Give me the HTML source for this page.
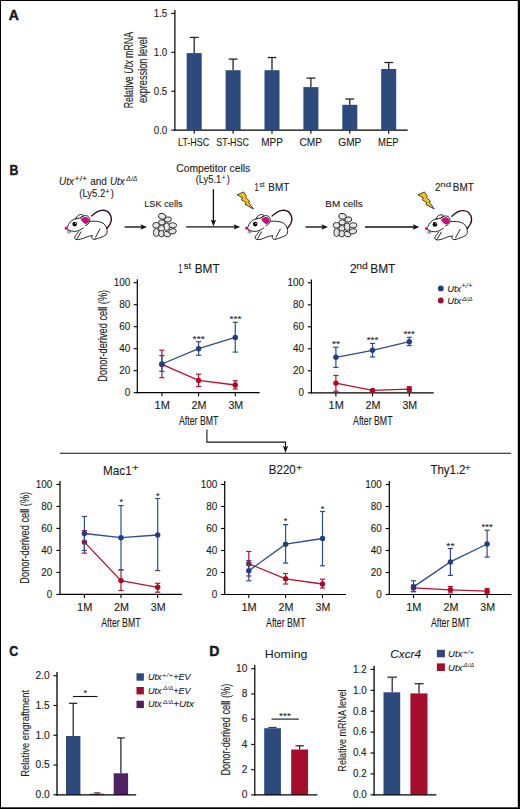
<!DOCTYPE html>
<html><head><meta charset="utf-8"><style>
html,body{margin:0;padding:0;background:#fff;overflow:hidden;}
svg{display:block;font-family:"Liberation Sans", sans-serif;}
text{fill:#1a1a1a;stroke:#1a1a1a;stroke-width:0.1px;}
</style></head><body>
<svg width="520" height="809" viewBox="0 0 520 809">
<rect x="0" y="0" width="520" height="809" fill="#000"/>
<rect x="1" y="1" width="516.8" height="806.3" fill="#fff"/>
<text x="8.85" y="19.80" font-size="14.00" textLength="10.12" lengthAdjust="spacingAndGlyphs" font-weight="bold" style="stroke-width:0.45px">A</text>
<text x="9.48" y="174.80" font-size="14.00" textLength="8.88" lengthAdjust="spacingAndGlyphs" font-weight="bold" style="stroke-width:0.45px">B</text>
<text x="9.19" y="656.30" font-size="14.00" textLength="8.95" lengthAdjust="spacingAndGlyphs" font-weight="bold" style="stroke-width:0.45px">C</text>
<text x="209.16" y="656.20" font-size="14.00" textLength="10.13" lengthAdjust="spacingAndGlyphs" font-weight="bold" style="stroke-width:0.45px">D</text>
<line x1="174.90" y1="10.00" x2="174.90" y2="130.80" stroke="#000" stroke-width="1.2"/>
<line x1="171.30" y1="130.10" x2="174.90" y2="130.10" stroke="#000" stroke-width="1.1"/>
<text x="153.73" y="133.70" font-size="10.50" textLength="13.55" lengthAdjust="spacingAndGlyphs">0.0</text>
<line x1="171.30" y1="91.20" x2="174.90" y2="91.20" stroke="#000" stroke-width="1.1"/>
<text x="153.76" y="94.80" font-size="10.50" textLength="13.55" lengthAdjust="spacingAndGlyphs">0.5</text>
<line x1="171.30" y1="52.30" x2="174.90" y2="52.30" stroke="#000" stroke-width="1.1"/>
<text x="153.73" y="55.90" font-size="10.50" textLength="13.55" lengthAdjust="spacingAndGlyphs">1.0</text>
<line x1="171.30" y1="13.40" x2="174.90" y2="13.40" stroke="#000" stroke-width="1.1"/>
<text x="153.76" y="17.00" font-size="10.50" textLength="13.55" lengthAdjust="spacingAndGlyphs">1.5</text>
<line x1="174.30" y1="130.20" x2="407.70" y2="130.20" stroke="#000" stroke-width="1.2"/>
<line x1="194.20" y1="37.40" x2="194.20" y2="53.10" stroke="#262626" stroke-width="1.3"/>
<line x1="189.80" y1="37.40" x2="198.60" y2="37.40" stroke="#262626" stroke-width="1.3"/>
<rect x="186.70" y="53.10" width="15.00" height="77.10" fill="#2c4a7c"/>
<line x1="194.20" y1="130.20" x2="194.20" y2="133.70" stroke="#000" stroke-width="1.1"/>
<text x="178.10" y="146.00" font-size="10.50" textLength="31.03" lengthAdjust="spacingAndGlyphs">LT-HSC</text>
<line x1="233.10" y1="59.10" x2="233.10" y2="70.20" stroke="#262626" stroke-width="1.3"/>
<line x1="228.70" y1="59.10" x2="237.50" y2="59.10" stroke="#262626" stroke-width="1.3"/>
<rect x="225.60" y="70.20" width="15.00" height="60.00" fill="#2c4a7c"/>
<line x1="233.10" y1="130.20" x2="233.10" y2="133.70" stroke="#000" stroke-width="1.1"/>
<text x="216.30" y="146.00" font-size="10.50" textLength="32.53" lengthAdjust="spacingAndGlyphs">ST-HSC</text>
<line x1="272.00" y1="57.50" x2="272.00" y2="70.20" stroke="#262626" stroke-width="1.3"/>
<line x1="267.60" y1="57.50" x2="276.40" y2="57.50" stroke="#262626" stroke-width="1.3"/>
<rect x="264.50" y="70.20" width="15.00" height="60.00" fill="#2c4a7c"/>
<line x1="272.00" y1="130.20" x2="272.00" y2="133.70" stroke="#000" stroke-width="1.1"/>
<text x="261.18" y="146.00" font-size="10.50" textLength="21.65" lengthAdjust="spacingAndGlyphs">MPP</text>
<line x1="310.90" y1="78.10" x2="310.90" y2="87.10" stroke="#262626" stroke-width="1.3"/>
<line x1="306.50" y1="78.10" x2="315.30" y2="78.10" stroke="#262626" stroke-width="1.3"/>
<rect x="303.40" y="87.10" width="15.00" height="43.10" fill="#2c4a7c"/>
<line x1="310.90" y1="130.20" x2="310.90" y2="133.70" stroke="#000" stroke-width="1.1"/>
<text x="299.48" y="146.00" font-size="10.50" textLength="22.55" lengthAdjust="spacingAndGlyphs">CMP</text>
<line x1="349.80" y1="99.00" x2="349.80" y2="104.80" stroke="#262626" stroke-width="1.3"/>
<line x1="345.40" y1="99.00" x2="354.20" y2="99.00" stroke="#262626" stroke-width="1.3"/>
<rect x="342.30" y="104.80" width="15.00" height="25.40" fill="#2c4a7c"/>
<line x1="349.80" y1="130.20" x2="349.80" y2="133.70" stroke="#000" stroke-width="1.1"/>
<text x="338.29" y="146.00" font-size="10.50" textLength="23.04" lengthAdjust="spacingAndGlyphs">GMP</text>
<line x1="388.70" y1="62.50" x2="388.70" y2="69.00" stroke="#262626" stroke-width="1.3"/>
<line x1="384.30" y1="62.50" x2="393.10" y2="62.50" stroke="#262626" stroke-width="1.3"/>
<rect x="381.20" y="69.00" width="15.00" height="61.20" fill="#2c4a7c"/>
<line x1="388.70" y1="130.20" x2="388.70" y2="133.70" stroke="#000" stroke-width="1.1"/>
<text x="378.02" y="146.00" font-size="10.50" textLength="20.47" lengthAdjust="spacingAndGlyphs">MEP</text>
<text transform="translate(133.00,108.33) rotate(-90)" x="0" y="0" font-size="12.80" textLength="76.55" lengthAdjust="spacingAndGlyphs">Relative <tspan font-style="italic">Utx</tspan> mRNA</text>
<text transform="translate(146.80,103.09) rotate(-90)" x="0" y="0" font-size="12.80" textLength="66.11" lengthAdjust="spacingAndGlyphs">expression level</text>
<text x="59.06" y="185.30" font-size="10.50" textLength="14.85" lengthAdjust="spacingAndGlyphs" font-style="italic">Utx</text>
<text x="74.58" y="181.20" font-size="7.60" textLength="12.55" lengthAdjust="spacingAndGlyphs">+/+</text>
<text x="90.18" y="185.00" font-size="10.30" textLength="16.67" lengthAdjust="spacingAndGlyphs">and</text>
<text x="110.07" y="185.30" font-size="10.50" textLength="14.64" lengthAdjust="spacingAndGlyphs" font-style="italic">Utx</text>
<text x="126.33" y="180.60" font-size="6.80" textLength="11.04" lengthAdjust="spacingAndGlyphs" font-style="italic" style="stroke-width:0px">Δ/Δ</text>
<text x="79.32" y="196.80" font-size="10.30" textLength="25.84" lengthAdjust="spacingAndGlyphs">(Ly5.2</text>
<text x="105.14" y="193.90" font-size="7.50" textLength="4.33" lengthAdjust="spacingAndGlyphs">+</text>
<text x="110.64" y="196.80" font-size="10.30" textLength="3.14" lengthAdjust="spacingAndGlyphs">)</text>
<line x1="124.60" y1="227.00" x2="143.00" y2="227.00" stroke="#111" stroke-width="1.35"/>
<path d="M147.00,227.00 L140.40,224.30 L141.80,227.00 L140.40,229.70 Z" fill="#111"/>
<line x1="186.20" y1="226.90" x2="236.20" y2="226.90" stroke="#111" stroke-width="1.35"/>
<path d="M240.20,226.90 L233.60,224.20 L235.00,226.90 L233.60,229.60 Z" fill="#111"/>
<line x1="213.40" y1="189.20" x2="213.40" y2="222.30" stroke="#111" stroke-width="1.35"/>
<path d="M213.40,226.30 L210.70,219.70 L213.40,221.10 L216.10,219.70 Z" fill="#111"/>
<line x1="305.40" y1="227.00" x2="324.00" y2="227.00" stroke="#111" stroke-width="1.35"/>
<path d="M328.00,227.00 L321.40,224.30 L322.80,227.00 L321.40,229.70 Z" fill="#111"/>
<line x1="365.00" y1="227.00" x2="415.30" y2="227.00" stroke="#111" stroke-width="1.35"/>
<path d="M419.30,227.00 L412.70,224.30 L414.10,227.00 L412.70,229.70 Z" fill="#111"/>
<text x="144.14" y="206.80" font-size="9.30" textLength="38.49" lengthAdjust="spacingAndGlyphs">LSK cells</text>
<text x="176.28" y="172.00" font-size="10.50" textLength="73.90" lengthAdjust="spacingAndGlyphs">Competitor cells</text>
<text x="195.63" y="183.00" font-size="10.30" textLength="25.52" lengthAdjust="spacingAndGlyphs">(Ly5.1</text>
<text x="222.02" y="179.50" font-size="6.50" textLength="3.37" lengthAdjust="spacingAndGlyphs">+</text>
<text x="226.85" y="183.00" font-size="10.30" textLength="3.01" lengthAdjust="spacingAndGlyphs">)</text>
<text x="325.29" y="206.90" font-size="9.30" textLength="37.47" lengthAdjust="spacingAndGlyphs">BM cells</text>
<text x="254.52" y="190.60" font-size="10.20" textLength="4.26" lengthAdjust="spacingAndGlyphs">1</text>
<text x="259.52" y="187.40" font-size="7.20" textLength="5.03" lengthAdjust="spacingAndGlyphs">st</text>
<text x="268.29" y="190.60" font-size="10.20" textLength="20.94" lengthAdjust="spacingAndGlyphs">BMT</text>
<text x="435.11" y="190.90" font-size="10.20" textLength="5.37" lengthAdjust="spacingAndGlyphs">2</text>
<text x="440.36" y="187.00" font-size="7.60" textLength="10.77" lengthAdjust="spacingAndGlyphs">nd</text>
<text x="452.78" y="190.90" font-size="10.20" textLength="21.05" lengthAdjust="spacingAndGlyphs">BMT</text>
<g transform="translate(0,0)" fill="#e6e6e6" stroke="#222" stroke-width="0.9">
<ellipse cx="162.1" cy="216.3" rx="3.8" ry="2.9" transform="rotate(15 162.1 216.3)"/>
<ellipse cx="167.9" cy="219.5" rx="3.5" ry="2.6" transform="rotate(-10 167.9 219.5)"/>
<ellipse cx="161.8" cy="222.4" rx="3.2" ry="2.6" transform="rotate(0 161.8 222.4)"/>
<ellipse cx="156.1" cy="225.3" rx="3.3" ry="2.9" transform="rotate(0 156.1 225.3)"/>
<ellipse cx="166.7" cy="226.7" rx="2.9" ry="3.8" transform="rotate(0 166.7 226.7)"/>
<ellipse cx="172.8" cy="225.3" rx="3.8" ry="2.6" transform="rotate(0 172.8 225.3)"/>
<ellipse cx="161.5" cy="228.5" rx="3.0" ry="3.0" transform="rotate(0 161.5 228.5)"/>
<ellipse cx="156.3" cy="232.5" rx="2.9" ry="4.0" transform="rotate(0 156.3 232.5)"/>
<ellipse cx="161.5" cy="233.7" rx="2.9" ry="3.2" transform="rotate(0 161.5 233.7)"/>
<ellipse cx="167.0" cy="234.2" rx="3.5" ry="2.6" transform="rotate(20 167.0 234.2)"/>
<ellipse cx="172.5" cy="231.3" rx="3.8" ry="2.6" transform="rotate(-10 172.5 231.3)"/>
</g>
<g transform="translate(180.4,0)" fill="#e6e6e6" stroke="#222" stroke-width="0.9">
<ellipse cx="162.1" cy="216.3" rx="3.8" ry="2.9" transform="rotate(15 162.1 216.3)"/>
<ellipse cx="167.9" cy="219.5" rx="3.5" ry="2.6" transform="rotate(-10 167.9 219.5)"/>
<ellipse cx="161.8" cy="222.4" rx="3.2" ry="2.6" transform="rotate(0 161.8 222.4)"/>
<ellipse cx="156.1" cy="225.3" rx="3.3" ry="2.9" transform="rotate(0 156.1 225.3)"/>
<ellipse cx="166.7" cy="226.7" rx="2.9" ry="3.8" transform="rotate(0 166.7 226.7)"/>
<ellipse cx="172.8" cy="225.3" rx="3.8" ry="2.6" transform="rotate(0 172.8 225.3)"/>
<ellipse cx="161.5" cy="228.5" rx="3.0" ry="3.0" transform="rotate(0 161.5 228.5)"/>
<ellipse cx="156.3" cy="232.5" rx="2.9" ry="4.0" transform="rotate(0 156.3 232.5)"/>
<ellipse cx="161.5" cy="233.7" rx="2.9" ry="3.2" transform="rotate(0 161.5 233.7)"/>
<ellipse cx="167.0" cy="234.2" rx="3.5" ry="2.6" transform="rotate(20 167.0 234.2)"/>
<ellipse cx="172.5" cy="231.3" rx="3.8" ry="2.6" transform="rotate(-10 172.5 231.3)"/>
</g>
<polygon points="237.10,194.80 243.70,191.90 246.60,196.50 245.70,197.50 249.80,201.30 248.50,202.20 253.50,209.00 245.00,204.40 246.20,202.80 241.20,199.60 242.80,198.00" fill="#f3c21a" stroke="#000" stroke-width="0.7"/>
<polygon points="417.90,194.80 424.50,191.90 427.40,196.50 426.50,197.50 430.60,201.30 429.30,202.20 434.30,209.00 425.80,204.40 427.00,202.80 422.00,199.60 423.60,198.00" fill="#f3c21a" stroke="#000" stroke-width="0.7"/>
<g>
<path d="M91.2,216.4 C94,213.5 98,210.6 102,210.3 C106,210 109.5,212.5 110.8,216 C112,219.5 110.8,223.5 108.5,226.3 L106.8,228.5" fill="none" stroke="#2e0619" stroke-width="1.35"/>
<path d="M75.5,218.8 C76.5,216.3 78.5,214.7 80.8,214.5 C82.3,214.4 83.3,215 83.5,215.9 L80.5,217.8 Z" fill="#fff" stroke="#111" stroke-width="0.9"/>
<g fill="none" stroke="#111" stroke-width="0.9" stroke-linecap="round">
<path d="M67.6,226.6 C68.6,223.2 71,220.6 74,219.3 C75,218.9 76,218.7 77,218.6"/>
<path d="M80.3,218 C82,216.2 84,215.5 86.2,215.7 C88.4,215.9 89.9,217.8 89.8,220.3 C89.7,222.8 87.8,224.9 85.5,225.6"/>
<path d="M90.3,221.3 C94,220.9 99,221.3 102,222.6 C105,224 107,227 107.1,230.5 C107.2,232.5 106.8,234 105.9,234.9 C103.5,236.5 99,238.3 95,239.2"/>
<path d="M67.8,229.6 C70,231 73,231.6 75.3,231.4 C78,231.1 81,229.5 83.4,227.9"/>
<path d="M78.7,231.6 C77,233.5 75.5,235.5 74.7,237.1 C74.3,238.2 75,239.3 76.7,239.5"/>
<path d="M81,231.9 L77.3,238.3"/>
<path d="M76.7,239.6 C79,239.8 82,239 86.2,237.1 C88,236.3 90,235.7 92.1,235.7"/>
<path d="M99.9,229.1 L95.5,237.2"/>
<path d="M92.1,235.7 C91.4,236.6 91.6,238.5 93,239.2 L95,239.2"/>
</g>
<path d="M80.7,219.6 C81.6,217.8 83.5,216.8 85.7,216.9 C87.8,217 89.2,218.6 89.1,220.6 C89,222.6 87.5,224 85.6,224.2 C83.8,223.4 82,221.8 80.7,219.6 Z" fill="#c5107a"/>
<g stroke="#222" stroke-width="0.55"><path d="M68,230 L67.6,233.4 M69,230.2 L69.3,233.7 M70,230.4 L70.8,233.1"/></g>
<circle cx="66.3" cy="228.2" r="1.6" fill="#c5107a"/>
<circle cx="74.7" cy="224.1" r="2.3" fill="#000"/>
<circle cx="75.4" cy="223.4" r="0.55" fill="#fff"/>
</g>
<g transform="translate(180.5,0)">
<path d="M91.2,216.4 C94,213.5 98,210.6 102,210.3 C106,210 109.5,212.5 110.8,216 C112,219.5 110.8,223.5 108.5,226.3 L106.8,228.5" fill="none" stroke="#2e0619" stroke-width="1.35"/>
<path d="M75.5,218.8 C76.5,216.3 78.5,214.7 80.8,214.5 C82.3,214.4 83.3,215 83.5,215.9 L80.5,217.8 Z" fill="#fff" stroke="#111" stroke-width="0.9"/>
<g fill="none" stroke="#111" stroke-width="0.9" stroke-linecap="round">
<path d="M67.6,226.6 C68.6,223.2 71,220.6 74,219.3 C75,218.9 76,218.7 77,218.6"/>
<path d="M80.3,218 C82,216.2 84,215.5 86.2,215.7 C88.4,215.9 89.9,217.8 89.8,220.3 C89.7,222.8 87.8,224.9 85.5,225.6"/>
<path d="M90.3,221.3 C94,220.9 99,221.3 102,222.6 C105,224 107,227 107.1,230.5 C107.2,232.5 106.8,234 105.9,234.9 C103.5,236.5 99,238.3 95,239.2"/>
<path d="M67.8,229.6 C70,231 73,231.6 75.3,231.4 C78,231.1 81,229.5 83.4,227.9"/>
<path d="M78.7,231.6 C77,233.5 75.5,235.5 74.7,237.1 C74.3,238.2 75,239.3 76.7,239.5"/>
<path d="M81,231.9 L77.3,238.3"/>
<path d="M76.7,239.6 C79,239.8 82,239 86.2,237.1 C88,236.3 90,235.7 92.1,235.7"/>
<path d="M99.9,229.1 L95.5,237.2"/>
<path d="M92.1,235.7 C91.4,236.6 91.6,238.5 93,239.2 L95,239.2"/>
</g>
<path d="M80.7,219.6 C81.6,217.8 83.5,216.8 85.7,216.9 C87.8,217 89.2,218.6 89.1,220.6 C89,222.6 87.5,224 85.6,224.2 C83.8,223.4 82,221.8 80.7,219.6 Z" fill="#c5107a"/>
<g stroke="#222" stroke-width="0.55"><path d="M68,230 L67.6,233.4 M69,230.2 L69.3,233.7 M70,230.4 L70.8,233.1"/></g>
<circle cx="66.3" cy="228.2" r="1.6" fill="#c5107a"/>
<circle cx="74.7" cy="224.1" r="2.3" fill="#000"/>
<circle cx="75.4" cy="223.4" r="0.55" fill="#fff"/>
</g>
<g transform="translate(360.2,0.3)">
<path d="M91.2,216.4 C94,213.5 98,210.6 102,210.3 C106,210 109.5,212.5 110.8,216 C112,219.5 110.8,223.5 108.5,226.3 L106.8,228.5" fill="none" stroke="#2e0619" stroke-width="1.35"/>
<path d="M75.5,218.8 C76.5,216.3 78.5,214.7 80.8,214.5 C82.3,214.4 83.3,215 83.5,215.9 L80.5,217.8 Z" fill="#fff" stroke="#111" stroke-width="0.9"/>
<g fill="none" stroke="#111" stroke-width="0.9" stroke-linecap="round">
<path d="M67.6,226.6 C68.6,223.2 71,220.6 74,219.3 C75,218.9 76,218.7 77,218.6"/>
<path d="M80.3,218 C82,216.2 84,215.5 86.2,215.7 C88.4,215.9 89.9,217.8 89.8,220.3 C89.7,222.8 87.8,224.9 85.5,225.6"/>
<path d="M90.3,221.3 C94,220.9 99,221.3 102,222.6 C105,224 107,227 107.1,230.5 C107.2,232.5 106.8,234 105.9,234.9 C103.5,236.5 99,238.3 95,239.2"/>
<path d="M67.8,229.6 C70,231 73,231.6 75.3,231.4 C78,231.1 81,229.5 83.4,227.9"/>
<path d="M78.7,231.6 C77,233.5 75.5,235.5 74.7,237.1 C74.3,238.2 75,239.3 76.7,239.5"/>
<path d="M81,231.9 L77.3,238.3"/>
<path d="M76.7,239.6 C79,239.8 82,239 86.2,237.1 C88,236.3 90,235.7 92.1,235.7"/>
<path d="M99.9,229.1 L95.5,237.2"/>
<path d="M92.1,235.7 C91.4,236.6 91.6,238.5 93,239.2 L95,239.2"/>
</g>
<path d="M80.7,219.6 C81.6,217.8 83.5,216.8 85.7,216.9 C87.8,217 89.2,218.6 89.1,220.6 C89,222.6 87.5,224 85.6,224.2 C83.8,223.4 82,221.8 80.7,219.6 Z" fill="#c5107a"/>
<g stroke="#222" stroke-width="0.55"><path d="M68,230 L67.6,233.4 M69,230.2 L69.3,233.7 M70,230.4 L70.8,233.1"/></g>
<circle cx="66.3" cy="228.2" r="1.6" fill="#c5107a"/>
<circle cx="74.7" cy="224.1" r="2.3" fill="#000"/>
<circle cx="75.4" cy="223.4" r="0.55" fill="#fff"/>
</g>
<line x1="137.30" y1="279.30" x2="137.30" y2="393.30" stroke="#000" stroke-width="1.2"/>
<line x1="133.70" y1="392.70" x2="137.30" y2="392.70" stroke="#000" stroke-width="1.1"/>
<text x="124.77" y="395.90" font-size="10.20" textLength="5.51" lengthAdjust="spacingAndGlyphs">0</text>
<line x1="133.70" y1="370.70" x2="137.30" y2="370.70" stroke="#000" stroke-width="1.1"/>
<text x="119.26" y="373.90" font-size="10.20" textLength="11.03" lengthAdjust="spacingAndGlyphs">20</text>
<line x1="133.70" y1="348.70" x2="137.30" y2="348.70" stroke="#000" stroke-width="1.1"/>
<text x="119.26" y="351.90" font-size="10.20" textLength="11.03" lengthAdjust="spacingAndGlyphs">40</text>
<line x1="133.70" y1="326.70" x2="137.30" y2="326.70" stroke="#000" stroke-width="1.1"/>
<text x="119.26" y="329.90" font-size="10.20" textLength="11.03" lengthAdjust="spacingAndGlyphs">60</text>
<line x1="133.70" y1="304.70" x2="137.30" y2="304.70" stroke="#000" stroke-width="1.1"/>
<text x="119.26" y="307.90" font-size="10.20" textLength="11.03" lengthAdjust="spacingAndGlyphs">80</text>
<line x1="133.70" y1="282.70" x2="137.30" y2="282.70" stroke="#000" stroke-width="1.1"/>
<text x="113.74" y="285.90" font-size="10.20" textLength="16.54" lengthAdjust="spacingAndGlyphs">100</text>
<line x1="136.70" y1="392.70" x2="259.60" y2="392.70" stroke="#000" stroke-width="1.2"/>
<line x1="161.90" y1="392.70" x2="161.90" y2="396.30" stroke="#000" stroke-width="1.1"/>
<text x="154.61" y="408.80" font-size="10.20" textLength="15.24" lengthAdjust="spacingAndGlyphs">1M</text>
<line x1="198.60" y1="392.70" x2="198.60" y2="396.30" stroke="#000" stroke-width="1.1"/>
<text x="191.61" y="408.80" font-size="10.20" textLength="14.92" lengthAdjust="spacingAndGlyphs">2M</text>
<line x1="235.30" y1="392.70" x2="235.30" y2="396.30" stroke="#000" stroke-width="1.1"/>
<text x="228.44" y="408.80" font-size="10.20" textLength="14.78" lengthAdjust="spacingAndGlyphs">3M</text>
<polyline points="161.90,364.40 198.60,380.40 235.30,385.00" fill="none" stroke="#b3152f" stroke-width="1.3"/>
<line x1="161.90" y1="350.20" x2="161.90" y2="377.70" stroke="#b3152f" stroke-width="1.2"/>
<line x1="159.30" y1="350.20" x2="164.50" y2="350.20" stroke="#b3152f" stroke-width="1.2"/>
<line x1="159.30" y1="377.70" x2="164.50" y2="377.70" stroke="#b3152f" stroke-width="1.2"/>
<circle cx="161.90" cy="364.40" r="2.7" fill="#a80a27"/>
<line x1="198.60" y1="374.20" x2="198.60" y2="386.50" stroke="#b3152f" stroke-width="1.2"/>
<line x1="196.00" y1="374.20" x2="201.20" y2="374.20" stroke="#b3152f" stroke-width="1.2"/>
<line x1="196.00" y1="386.50" x2="201.20" y2="386.50" stroke="#b3152f" stroke-width="1.2"/>
<circle cx="198.60" cy="380.40" r="2.7" fill="#a80a27"/>
<line x1="235.30" y1="380.80" x2="235.30" y2="389.00" stroke="#b3152f" stroke-width="1.2"/>
<line x1="232.70" y1="380.80" x2="237.90" y2="380.80" stroke="#b3152f" stroke-width="1.2"/>
<line x1="232.70" y1="389.00" x2="237.90" y2="389.00" stroke="#b3152f" stroke-width="1.2"/>
<circle cx="235.30" cy="385.00" r="2.7" fill="#a80a27"/>
<polyline points="161.90,364.00 198.60,348.70 235.30,337.40" fill="none" stroke="#2d4d8c" stroke-width="1.3"/>
<line x1="161.90" y1="355.60" x2="161.90" y2="371.30" stroke="#2d4d8c" stroke-width="1.2"/>
<line x1="159.30" y1="355.60" x2="164.50" y2="355.60" stroke="#2d4d8c" stroke-width="1.2"/>
<line x1="159.30" y1="371.30" x2="164.50" y2="371.30" stroke="#2d4d8c" stroke-width="1.2"/>
<circle cx="161.90" cy="364.00" r="2.7" fill="#213f7e"/>
<line x1="198.60" y1="341.70" x2="198.60" y2="355.30" stroke="#2d4d8c" stroke-width="1.2"/>
<line x1="196.00" y1="341.70" x2="201.20" y2="341.70" stroke="#2d4d8c" stroke-width="1.2"/>
<line x1="196.00" y1="355.30" x2="201.20" y2="355.30" stroke="#2d4d8c" stroke-width="1.2"/>
<circle cx="198.60" cy="348.70" r="2.7" fill="#213f7e"/>
<line x1="235.30" y1="322.30" x2="235.30" y2="352.10" stroke="#2d4d8c" stroke-width="1.2"/>
<line x1="232.70" y1="322.30" x2="237.90" y2="322.30" stroke="#2d4d8c" stroke-width="1.2"/>
<line x1="232.70" y1="352.10" x2="237.90" y2="352.10" stroke="#2d4d8c" stroke-width="1.2"/>
<circle cx="235.30" cy="337.40" r="2.7" fill="#213f7e"/>
<text x="192.63" y="341.53" font-size="9.30" textLength="12.13" lengthAdjust="spacingAndGlyphs" style="stroke-width:0.05px">***</text>
<text x="229.59" y="322.23" font-size="9.30" textLength="11.82" lengthAdjust="spacingAndGlyphs" style="stroke-width:0.05px">***</text>
<text x="178.13" y="272.50" font-size="12.20" textLength="4.13" lengthAdjust="spacingAndGlyphs">1</text>
<text x="183.84" y="268.70" font-size="8.40" textLength="7.33" lengthAdjust="spacingAndGlyphs">st</text>
<text x="194.73" y="272.50" font-size="12.20" textLength="24.94" lengthAdjust="spacingAndGlyphs">BMT</text>
<text x="178.98" y="424.60" font-size="12.20" textLength="39.42" lengthAdjust="spacingAndGlyphs">After BMT</text>
<text transform="translate(107.10,381.66) rotate(-90)" x="0" y="0" font-size="13.00" textLength="91.83" lengthAdjust="spacingAndGlyphs">Donor-derived cell (%)</text>
<line x1="311.40" y1="279.40" x2="311.40" y2="393.40" stroke="#000" stroke-width="1.2"/>
<line x1="307.80" y1="392.80" x2="311.40" y2="392.80" stroke="#000" stroke-width="1.1"/>
<text x="298.57" y="396.00" font-size="10.20" textLength="5.51" lengthAdjust="spacingAndGlyphs">0</text>
<line x1="307.80" y1="370.80" x2="311.40" y2="370.80" stroke="#000" stroke-width="1.1"/>
<text x="293.06" y="374.00" font-size="10.20" textLength="11.03" lengthAdjust="spacingAndGlyphs">20</text>
<line x1="307.80" y1="348.80" x2="311.40" y2="348.80" stroke="#000" stroke-width="1.1"/>
<text x="293.06" y="352.00" font-size="10.20" textLength="11.03" lengthAdjust="spacingAndGlyphs">40</text>
<line x1="307.80" y1="326.80" x2="311.40" y2="326.80" stroke="#000" stroke-width="1.1"/>
<text x="293.06" y="330.00" font-size="10.20" textLength="11.03" lengthAdjust="spacingAndGlyphs">60</text>
<line x1="307.80" y1="304.80" x2="311.40" y2="304.80" stroke="#000" stroke-width="1.1"/>
<text x="293.06" y="308.00" font-size="10.20" textLength="11.03" lengthAdjust="spacingAndGlyphs">80</text>
<line x1="307.80" y1="282.80" x2="311.40" y2="282.80" stroke="#000" stroke-width="1.1"/>
<text x="287.54" y="286.00" font-size="10.20" textLength="16.54" lengthAdjust="spacingAndGlyphs">100</text>
<line x1="310.80" y1="392.80" x2="433.70" y2="392.80" stroke="#000" stroke-width="1.2"/>
<line x1="335.90" y1="392.80" x2="335.90" y2="396.40" stroke="#000" stroke-width="1.1"/>
<text x="328.61" y="408.90" font-size="10.20" textLength="15.24" lengthAdjust="spacingAndGlyphs">1M</text>
<line x1="372.50" y1="392.80" x2="372.50" y2="396.40" stroke="#000" stroke-width="1.1"/>
<text x="365.51" y="408.90" font-size="10.20" textLength="14.92" lengthAdjust="spacingAndGlyphs">2M</text>
<line x1="409.30" y1="392.80" x2="409.30" y2="396.40" stroke="#000" stroke-width="1.1"/>
<text x="402.44" y="408.90" font-size="10.20" textLength="14.78" lengthAdjust="spacingAndGlyphs">3M</text>
<polyline points="335.90,383.10 372.50,390.40 409.30,389.20" fill="none" stroke="#b3152f" stroke-width="1.3"/>
<line x1="335.90" y1="375.50" x2="335.90" y2="391.20" stroke="#b3152f" stroke-width="1.2"/>
<line x1="333.30" y1="375.50" x2="338.50" y2="375.50" stroke="#b3152f" stroke-width="1.2"/>
<line x1="333.30" y1="391.20" x2="338.50" y2="391.20" stroke="#b3152f" stroke-width="1.2"/>
<circle cx="335.90" cy="383.10" r="2.7" fill="#a80a27"/>
<line x1="372.50" y1="389.60" x2="372.50" y2="391.20" stroke="#b3152f" stroke-width="1.2"/>
<line x1="369.90" y1="389.60" x2="375.10" y2="389.60" stroke="#b3152f" stroke-width="1.2"/>
<line x1="369.90" y1="391.20" x2="375.10" y2="391.20" stroke="#b3152f" stroke-width="1.2"/>
<circle cx="372.50" cy="390.40" r="2.7" fill="#a80a27"/>
<line x1="409.30" y1="386.70" x2="409.30" y2="391.80" stroke="#b3152f" stroke-width="1.2"/>
<line x1="406.70" y1="386.70" x2="411.90" y2="386.70" stroke="#b3152f" stroke-width="1.2"/>
<line x1="406.70" y1="391.80" x2="411.90" y2="391.80" stroke="#b3152f" stroke-width="1.2"/>
<circle cx="409.30" cy="389.20" r="2.7" fill="#a80a27"/>
<polyline points="335.90,357.30 372.50,350.30 409.30,341.70" fill="none" stroke="#2d4d8c" stroke-width="1.3"/>
<line x1="335.90" y1="347.20" x2="335.90" y2="367.40" stroke="#2d4d8c" stroke-width="1.2"/>
<line x1="333.30" y1="347.20" x2="338.50" y2="347.20" stroke="#2d4d8c" stroke-width="1.2"/>
<line x1="333.30" y1="367.40" x2="338.50" y2="367.40" stroke="#2d4d8c" stroke-width="1.2"/>
<circle cx="335.90" cy="357.30" r="2.7" fill="#213f7e"/>
<line x1="372.50" y1="343.40" x2="372.50" y2="357.00" stroke="#2d4d8c" stroke-width="1.2"/>
<line x1="369.90" y1="343.40" x2="375.10" y2="343.40" stroke="#2d4d8c" stroke-width="1.2"/>
<line x1="369.90" y1="357.00" x2="375.10" y2="357.00" stroke="#2d4d8c" stroke-width="1.2"/>
<circle cx="372.50" cy="350.30" r="2.7" fill="#213f7e"/>
<line x1="409.30" y1="337.30" x2="409.30" y2="345.60" stroke="#2d4d8c" stroke-width="1.2"/>
<line x1="406.70" y1="337.30" x2="411.90" y2="337.30" stroke="#2d4d8c" stroke-width="1.2"/>
<line x1="406.70" y1="345.60" x2="411.90" y2="345.60" stroke="#2d4d8c" stroke-width="1.2"/>
<circle cx="409.30" cy="341.70" r="2.7" fill="#213f7e"/>
<text x="331.93" y="346.53" font-size="9.30" textLength="8.13" lengthAdjust="spacingAndGlyphs" style="stroke-width:0.05px">**</text>
<text x="366.69" y="342.93" font-size="9.30" textLength="11.62" lengthAdjust="spacingAndGlyphs" style="stroke-width:0.05px">***</text>
<text x="403.54" y="336.53" font-size="9.30" textLength="11.31" lengthAdjust="spacingAndGlyphs" style="stroke-width:0.05px">***</text>
<text x="349.77" y="272.50" font-size="12.40" textLength="6.96" lengthAdjust="spacingAndGlyphs">2</text>
<text x="356.21" y="268.70" font-size="9.00" textLength="11.56" lengthAdjust="spacingAndGlyphs">nd</text>
<text x="370.22" y="272.60" font-size="12.40" textLength="25.15" lengthAdjust="spacingAndGlyphs">BMT</text>
<text x="353.08" y="425.00" font-size="12.20" textLength="39.42" lengthAdjust="spacingAndGlyphs">After BMT</text>
<circle cx="440.80" cy="288.40" r="2.9" fill="#213f7e"/>
<circle cx="440.80" cy="300.50" r="2.9" fill="#a80a27"/>
<text x="447.21" y="292.00" font-size="9.50" textLength="13.92" lengthAdjust="spacingAndGlyphs" font-style="italic">Utx</text>
<text x="461.31" y="288.20" font-size="6.40" textLength="11.16" lengthAdjust="spacingAndGlyphs" font-style="italic" style="stroke-width:0px">+/+</text>
<text x="447.21" y="303.90" font-size="9.50" textLength="13.92" lengthAdjust="spacingAndGlyphs" font-style="italic">Utx</text>
<text x="461.93" y="300.50" font-size="5.80" textLength="10.73" lengthAdjust="spacingAndGlyphs" font-style="italic" style="stroke-width:0px">Δ/Δ</text>
<line x1="206.90" y1="429.60" x2="206.90" y2="442.10" stroke="#111" stroke-width="1.1"/>
<line x1="206.40" y1="442.10" x2="285.50" y2="442.10" stroke="#111" stroke-width="1.1"/>
<line x1="285.50" y1="441.60" x2="285.50" y2="448.00" stroke="#111" stroke-width="1.1"/>
<path d="M285.5,453 L282.8,445.6 L285.5,447.6 L288.2,445.6 Z" fill="#111"/>
<line x1="60.00" y1="453.20" x2="511.20" y2="453.20" stroke="#111" stroke-width="1.1"/>
<line x1="60.00" y1="481.00" x2="60.00" y2="595.00" stroke="#000" stroke-width="1.2"/>
<line x1="56.40" y1="594.40" x2="60.00" y2="594.40" stroke="#000" stroke-width="1.1"/>
<text x="46.77" y="597.60" font-size="10.20" textLength="5.51" lengthAdjust="spacingAndGlyphs">0</text>
<line x1="56.40" y1="572.40" x2="60.00" y2="572.40" stroke="#000" stroke-width="1.1"/>
<text x="41.26" y="575.60" font-size="10.20" textLength="11.03" lengthAdjust="spacingAndGlyphs">20</text>
<line x1="56.40" y1="550.40" x2="60.00" y2="550.40" stroke="#000" stroke-width="1.1"/>
<text x="41.26" y="553.60" font-size="10.20" textLength="11.03" lengthAdjust="spacingAndGlyphs">40</text>
<line x1="56.40" y1="528.40" x2="60.00" y2="528.40" stroke="#000" stroke-width="1.1"/>
<text x="41.26" y="531.60" font-size="10.20" textLength="11.03" lengthAdjust="spacingAndGlyphs">60</text>
<line x1="56.40" y1="506.40" x2="60.00" y2="506.40" stroke="#000" stroke-width="1.1"/>
<text x="41.26" y="509.60" font-size="10.20" textLength="11.03" lengthAdjust="spacingAndGlyphs">80</text>
<line x1="56.40" y1="484.40" x2="60.00" y2="484.40" stroke="#000" stroke-width="1.1"/>
<text x="35.74" y="487.60" font-size="10.20" textLength="16.54" lengthAdjust="spacingAndGlyphs">100</text>
<line x1="59.40" y1="594.40" x2="181.90" y2="594.40" stroke="#000" stroke-width="1.2"/>
<line x1="84.40" y1="594.40" x2="84.40" y2="598.00" stroke="#000" stroke-width="1.1"/>
<text x="77.11" y="610.50" font-size="10.20" textLength="15.24" lengthAdjust="spacingAndGlyphs">1M</text>
<line x1="121.00" y1="594.40" x2="121.00" y2="598.00" stroke="#000" stroke-width="1.1"/>
<text x="114.01" y="610.50" font-size="10.20" textLength="14.92" lengthAdjust="spacingAndGlyphs">2M</text>
<line x1="157.70" y1="594.40" x2="157.70" y2="598.00" stroke="#000" stroke-width="1.1"/>
<text x="150.84" y="610.50" font-size="10.20" textLength="14.78" lengthAdjust="spacingAndGlyphs">3M</text>
<polyline points="84.40,542.10 121.00,580.60 157.70,587.30" fill="none" stroke="#b3152f" stroke-width="1.3"/>
<line x1="84.40" y1="530.60" x2="84.40" y2="553.10" stroke="#b3152f" stroke-width="1.2"/>
<line x1="81.80" y1="530.60" x2="87.00" y2="530.60" stroke="#b3152f" stroke-width="1.2"/>
<line x1="81.80" y1="553.10" x2="87.00" y2="553.10" stroke="#b3152f" stroke-width="1.2"/>
<circle cx="84.40" cy="542.10" r="2.7" fill="#a80a27"/>
<line x1="121.00" y1="569.80" x2="121.00" y2="590.50" stroke="#b3152f" stroke-width="1.2"/>
<line x1="118.40" y1="569.80" x2="123.60" y2="569.80" stroke="#b3152f" stroke-width="1.2"/>
<line x1="118.40" y1="590.50" x2="123.60" y2="590.50" stroke="#b3152f" stroke-width="1.2"/>
<circle cx="121.00" cy="580.60" r="2.7" fill="#a80a27"/>
<line x1="157.70" y1="583.30" x2="157.70" y2="592.20" stroke="#b3152f" stroke-width="1.2"/>
<line x1="155.10" y1="583.30" x2="160.30" y2="583.30" stroke="#b3152f" stroke-width="1.2"/>
<line x1="155.10" y1="592.20" x2="160.30" y2="592.20" stroke="#b3152f" stroke-width="1.2"/>
<circle cx="157.70" cy="587.30" r="2.7" fill="#a80a27"/>
<polyline points="84.40,533.50 121.00,537.70 157.70,535.00" fill="none" stroke="#2d4d8c" stroke-width="1.3"/>
<line x1="84.40" y1="516.50" x2="84.40" y2="550.40" stroke="#2d4d8c" stroke-width="1.2"/>
<line x1="81.80" y1="516.50" x2="87.00" y2="516.50" stroke="#2d4d8c" stroke-width="1.2"/>
<line x1="81.80" y1="550.40" x2="87.00" y2="550.40" stroke="#2d4d8c" stroke-width="1.2"/>
<circle cx="84.40" cy="533.50" r="2.7" fill="#213f7e"/>
<line x1="121.00" y1="505.60" x2="121.00" y2="569.80" stroke="#2d4d8c" stroke-width="1.2"/>
<line x1="118.40" y1="505.60" x2="123.60" y2="505.60" stroke="#2d4d8c" stroke-width="1.2"/>
<line x1="118.40" y1="569.80" x2="123.60" y2="569.80" stroke="#2d4d8c" stroke-width="1.2"/>
<circle cx="121.00" cy="537.70" r="2.7" fill="#213f7e"/>
<line x1="157.70" y1="498.50" x2="157.70" y2="570.60" stroke="#2d4d8c" stroke-width="1.2"/>
<line x1="155.10" y1="498.50" x2="160.30" y2="498.50" stroke="#2d4d8c" stroke-width="1.2"/>
<line x1="155.10" y1="570.60" x2="160.30" y2="570.60" stroke="#2d4d8c" stroke-width="1.2"/>
<circle cx="157.70" cy="535.00" r="2.7" fill="#213f7e"/>
<text x="119.40" y="505.13" font-size="9.30" textLength="3.59" lengthAdjust="spacingAndGlyphs" style="stroke-width:0.05px">*</text>
<text x="155.90" y="498.53" font-size="9.30" textLength="3.59" lengthAdjust="spacingAndGlyphs" style="stroke-width:0.05px">*</text>
<text x="103.04" y="474.50" font-size="11.90" textLength="28.63" lengthAdjust="spacingAndGlyphs">Mac1</text>
<text x="132.17" y="470.90" font-size="8.60" textLength="6.37" lengthAdjust="spacingAndGlyphs">+</text>
<text x="101.18" y="626.60" font-size="12.20" textLength="39.42" lengthAdjust="spacingAndGlyphs">After BMT</text>
<text transform="translate(29.30,583.66) rotate(-90)" x="0" y="0" font-size="13.00" textLength="91.83" lengthAdjust="spacingAndGlyphs">Donor-derived cell (%)</text>
<line x1="224.70" y1="481.10" x2="224.70" y2="595.10" stroke="#000" stroke-width="1.2"/>
<line x1="221.10" y1="594.50" x2="224.70" y2="594.50" stroke="#000" stroke-width="1.1"/>
<text x="211.77" y="597.70" font-size="10.20" textLength="5.51" lengthAdjust="spacingAndGlyphs">0</text>
<line x1="221.10" y1="572.50" x2="224.70" y2="572.50" stroke="#000" stroke-width="1.1"/>
<text x="206.26" y="575.70" font-size="10.20" textLength="11.03" lengthAdjust="spacingAndGlyphs">20</text>
<line x1="221.10" y1="550.50" x2="224.70" y2="550.50" stroke="#000" stroke-width="1.1"/>
<text x="206.26" y="553.70" font-size="10.20" textLength="11.03" lengthAdjust="spacingAndGlyphs">40</text>
<line x1="221.10" y1="528.50" x2="224.70" y2="528.50" stroke="#000" stroke-width="1.1"/>
<text x="206.26" y="531.70" font-size="10.20" textLength="11.03" lengthAdjust="spacingAndGlyphs">60</text>
<line x1="221.10" y1="506.50" x2="224.70" y2="506.50" stroke="#000" stroke-width="1.1"/>
<text x="206.26" y="509.70" font-size="10.20" textLength="11.03" lengthAdjust="spacingAndGlyphs">80</text>
<line x1="221.10" y1="484.50" x2="224.70" y2="484.50" stroke="#000" stroke-width="1.1"/>
<text x="200.74" y="487.70" font-size="10.20" textLength="16.54" lengthAdjust="spacingAndGlyphs">100</text>
<line x1="224.10" y1="594.50" x2="346.10" y2="594.50" stroke="#000" stroke-width="1.2"/>
<line x1="248.80" y1="594.50" x2="248.80" y2="598.10" stroke="#000" stroke-width="1.1"/>
<text x="241.51" y="610.60" font-size="10.20" textLength="15.24" lengthAdjust="spacingAndGlyphs">1M</text>
<line x1="285.60" y1="594.50" x2="285.60" y2="598.10" stroke="#000" stroke-width="1.1"/>
<text x="278.61" y="610.60" font-size="10.20" textLength="14.92" lengthAdjust="spacingAndGlyphs">2M</text>
<line x1="322.50" y1="594.50" x2="322.50" y2="598.10" stroke="#000" stroke-width="1.1"/>
<text x="315.64" y="610.60" font-size="10.20" textLength="14.78" lengthAdjust="spacingAndGlyphs">3M</text>
<polyline points="248.80,563.80 285.60,578.80 322.50,584.00" fill="none" stroke="#b3152f" stroke-width="1.3"/>
<line x1="248.80" y1="551.50" x2="248.80" y2="576.00" stroke="#b3152f" stroke-width="1.2"/>
<line x1="246.20" y1="551.50" x2="251.40" y2="551.50" stroke="#b3152f" stroke-width="1.2"/>
<line x1="246.20" y1="576.00" x2="251.40" y2="576.00" stroke="#b3152f" stroke-width="1.2"/>
<circle cx="248.80" cy="563.80" r="2.7" fill="#a80a27"/>
<line x1="285.60" y1="573.50" x2="285.60" y2="584.00" stroke="#b3152f" stroke-width="1.2"/>
<line x1="283.00" y1="573.50" x2="288.20" y2="573.50" stroke="#b3152f" stroke-width="1.2"/>
<line x1="283.00" y1="584.00" x2="288.20" y2="584.00" stroke="#b3152f" stroke-width="1.2"/>
<circle cx="285.60" cy="578.80" r="2.7" fill="#a80a27"/>
<line x1="322.50" y1="579.20" x2="322.50" y2="588.00" stroke="#b3152f" stroke-width="1.2"/>
<line x1="319.90" y1="579.20" x2="325.10" y2="579.20" stroke="#b3152f" stroke-width="1.2"/>
<line x1="319.90" y1="588.00" x2="325.10" y2="588.00" stroke="#b3152f" stroke-width="1.2"/>
<circle cx="322.50" cy="584.00" r="2.7" fill="#a80a27"/>
<polyline points="248.80,570.80 285.60,544.20 322.50,538.50" fill="none" stroke="#2d4d8c" stroke-width="1.3"/>
<line x1="248.80" y1="560.60" x2="248.80" y2="580.80" stroke="#2d4d8c" stroke-width="1.2"/>
<line x1="246.20" y1="560.60" x2="251.40" y2="560.60" stroke="#2d4d8c" stroke-width="1.2"/>
<line x1="246.20" y1="580.80" x2="251.40" y2="580.80" stroke="#2d4d8c" stroke-width="1.2"/>
<circle cx="248.80" cy="570.80" r="2.7" fill="#213f7e"/>
<line x1="285.60" y1="524.60" x2="285.60" y2="563.10" stroke="#2d4d8c" stroke-width="1.2"/>
<line x1="283.00" y1="524.60" x2="288.20" y2="524.60" stroke="#2d4d8c" stroke-width="1.2"/>
<line x1="283.00" y1="563.10" x2="288.20" y2="563.10" stroke="#2d4d8c" stroke-width="1.2"/>
<circle cx="285.60" cy="544.20" r="2.7" fill="#213f7e"/>
<line x1="322.50" y1="511.50" x2="322.50" y2="565.80" stroke="#2d4d8c" stroke-width="1.2"/>
<line x1="319.90" y1="511.50" x2="325.10" y2="511.50" stroke="#2d4d8c" stroke-width="1.2"/>
<line x1="319.90" y1="565.80" x2="325.10" y2="565.80" stroke="#2d4d8c" stroke-width="1.2"/>
<circle cx="322.50" cy="538.50" r="2.7" fill="#213f7e"/>
<text x="283.80" y="524.43" font-size="9.30" textLength="3.59" lengthAdjust="spacingAndGlyphs" style="stroke-width:0.05px">*</text>
<text x="320.70" y="511.73" font-size="9.30" textLength="3.59" lengthAdjust="spacingAndGlyphs" style="stroke-width:0.05px">*</text>
<text x="268.86" y="474.30" font-size="11.90" textLength="26.79" lengthAdjust="spacingAndGlyphs">B220</text>
<text x="296.30" y="470.80" font-size="8.60" textLength="6.01" lengthAdjust="spacingAndGlyphs">+</text>
<text x="266.08" y="626.60" font-size="12.20" textLength="39.42" lengthAdjust="spacingAndGlyphs">After BMT</text>
<line x1="389.30" y1="481.10" x2="389.30" y2="595.10" stroke="#000" stroke-width="1.2"/>
<line x1="385.70" y1="594.50" x2="389.30" y2="594.50" stroke="#000" stroke-width="1.1"/>
<text x="376.27" y="597.70" font-size="10.20" textLength="5.51" lengthAdjust="spacingAndGlyphs">0</text>
<line x1="385.70" y1="572.50" x2="389.30" y2="572.50" stroke="#000" stroke-width="1.1"/>
<text x="370.76" y="575.70" font-size="10.20" textLength="11.03" lengthAdjust="spacingAndGlyphs">20</text>
<line x1="385.70" y1="550.50" x2="389.30" y2="550.50" stroke="#000" stroke-width="1.1"/>
<text x="370.76" y="553.70" font-size="10.20" textLength="11.03" lengthAdjust="spacingAndGlyphs">40</text>
<line x1="385.70" y1="528.50" x2="389.30" y2="528.50" stroke="#000" stroke-width="1.1"/>
<text x="370.76" y="531.70" font-size="10.20" textLength="11.03" lengthAdjust="spacingAndGlyphs">60</text>
<line x1="385.70" y1="506.50" x2="389.30" y2="506.50" stroke="#000" stroke-width="1.1"/>
<text x="370.76" y="509.70" font-size="10.20" textLength="11.03" lengthAdjust="spacingAndGlyphs">80</text>
<line x1="385.70" y1="484.50" x2="389.30" y2="484.50" stroke="#000" stroke-width="1.1"/>
<text x="365.24" y="487.70" font-size="10.20" textLength="16.54" lengthAdjust="spacingAndGlyphs">100</text>
<line x1="388.70" y1="594.50" x2="511.50" y2="594.50" stroke="#000" stroke-width="1.2"/>
<line x1="413.50" y1="594.50" x2="413.50" y2="598.10" stroke="#000" stroke-width="1.1"/>
<text x="406.21" y="610.60" font-size="10.20" textLength="15.24" lengthAdjust="spacingAndGlyphs">1M</text>
<line x1="450.40" y1="594.50" x2="450.40" y2="598.10" stroke="#000" stroke-width="1.1"/>
<text x="443.41" y="610.60" font-size="10.20" textLength="14.92" lengthAdjust="spacingAndGlyphs">2M</text>
<line x1="487.10" y1="594.50" x2="487.10" y2="598.10" stroke="#000" stroke-width="1.1"/>
<text x="480.24" y="610.60" font-size="10.20" textLength="14.78" lengthAdjust="spacingAndGlyphs">3M</text>
<polyline points="413.50,587.90 450.40,589.80 487.10,591.20" fill="none" stroke="#b3152f" stroke-width="1.3"/>
<line x1="413.50" y1="585.00" x2="413.50" y2="591.60" stroke="#b3152f" stroke-width="1.2"/>
<line x1="410.90" y1="585.00" x2="416.10" y2="585.00" stroke="#b3152f" stroke-width="1.2"/>
<line x1="410.90" y1="591.60" x2="416.10" y2="591.60" stroke="#b3152f" stroke-width="1.2"/>
<circle cx="413.50" cy="587.90" r="2.7" fill="#a80a27"/>
<line x1="450.40" y1="586.50" x2="450.40" y2="593.00" stroke="#b3152f" stroke-width="1.2"/>
<line x1="447.80" y1="586.50" x2="453.00" y2="586.50" stroke="#b3152f" stroke-width="1.2"/>
<line x1="447.80" y1="593.00" x2="453.00" y2="593.00" stroke="#b3152f" stroke-width="1.2"/>
<circle cx="450.40" cy="589.80" r="2.7" fill="#a80a27"/>
<line x1="487.10" y1="588.50" x2="487.10" y2="593.70" stroke="#b3152f" stroke-width="1.2"/>
<line x1="484.50" y1="588.50" x2="489.70" y2="588.50" stroke="#b3152f" stroke-width="1.2"/>
<line x1="484.50" y1="593.70" x2="489.70" y2="593.70" stroke="#b3152f" stroke-width="1.2"/>
<circle cx="487.10" cy="591.20" r="2.7" fill="#a80a27"/>
<polyline points="413.50,586.90 450.40,561.90 487.10,544.00" fill="none" stroke="#2d4d8c" stroke-width="1.3"/>
<line x1="413.50" y1="580.80" x2="413.50" y2="591.70" stroke="#2d4d8c" stroke-width="1.2"/>
<line x1="410.90" y1="580.80" x2="416.10" y2="580.80" stroke="#2d4d8c" stroke-width="1.2"/>
<line x1="410.90" y1="591.70" x2="416.10" y2="591.70" stroke="#2d4d8c" stroke-width="1.2"/>
<circle cx="413.50" cy="586.90" r="2.7" fill="#213f7e"/>
<line x1="450.40" y1="548.50" x2="450.40" y2="575.40" stroke="#2d4d8c" stroke-width="1.2"/>
<line x1="447.80" y1="548.50" x2="453.00" y2="548.50" stroke="#2d4d8c" stroke-width="1.2"/>
<line x1="447.80" y1="575.40" x2="453.00" y2="575.40" stroke="#2d4d8c" stroke-width="1.2"/>
<circle cx="450.40" cy="561.90" r="2.7" fill="#213f7e"/>
<line x1="487.10" y1="530.20" x2="487.10" y2="557.10" stroke="#2d4d8c" stroke-width="1.2"/>
<line x1="484.50" y1="530.20" x2="489.70" y2="530.20" stroke="#2d4d8c" stroke-width="1.2"/>
<line x1="484.50" y1="557.10" x2="489.70" y2="557.10" stroke="#2d4d8c" stroke-width="1.2"/>
<circle cx="487.10" cy="544.00" r="2.7" fill="#213f7e"/>
<text x="446.33" y="548.73" font-size="9.30" textLength="8.13" lengthAdjust="spacingAndGlyphs" style="stroke-width:0.05px">**</text>
<text x="481.44" y="530.03" font-size="9.30" textLength="11.31" lengthAdjust="spacingAndGlyphs" style="stroke-width:0.05px">***</text>
<text x="430.44" y="474.10" font-size="11.90" textLength="35.03" lengthAdjust="spacingAndGlyphs">Thy1.2</text>
<text x="465.14" y="470.90" font-size="8.60" textLength="5.53" lengthAdjust="spacingAndGlyphs">+</text>
<text x="430.88" y="626.60" font-size="12.20" textLength="39.42" lengthAdjust="spacingAndGlyphs">After BMT</text>
<line x1="57.00" y1="672.00" x2="57.00" y2="795.40" stroke="#000" stroke-width="1.3"/>
<line x1="53.40" y1="794.80" x2="57.00" y2="794.80" stroke="#000" stroke-width="1.1"/>
<text x="35.49" y="798.20" font-size="10.70" textLength="14.21" lengthAdjust="spacingAndGlyphs">0.0</text>
<line x1="53.40" y1="765.02" x2="57.00" y2="765.02" stroke="#000" stroke-width="1.1"/>
<text x="35.52" y="768.42" font-size="10.70" textLength="14.21" lengthAdjust="spacingAndGlyphs">0.5</text>
<line x1="53.40" y1="735.25" x2="57.00" y2="735.25" stroke="#000" stroke-width="1.1"/>
<text x="35.49" y="738.65" font-size="10.70" textLength="14.21" lengthAdjust="spacingAndGlyphs">1.0</text>
<line x1="53.40" y1="705.47" x2="57.00" y2="705.47" stroke="#000" stroke-width="1.1"/>
<text x="35.52" y="708.87" font-size="10.70" textLength="14.21" lengthAdjust="spacingAndGlyphs">1.5</text>
<line x1="53.40" y1="675.70" x2="57.00" y2="675.70" stroke="#000" stroke-width="1.1"/>
<text x="35.49" y="679.10" font-size="10.70" textLength="14.21" lengthAdjust="spacingAndGlyphs">2.0</text>
<line x1="73.20" y1="703.30" x2="73.20" y2="736.00" stroke="#262626" stroke-width="1.25"/>
<line x1="68.90" y1="703.30" x2="77.30" y2="703.30" stroke="#262626" stroke-width="1.25"/>
<rect x="66.00" y="736.00" width="14.40" height="58.80" fill="#2c4a7c"/>
<line x1="97.20" y1="792.90" x2="97.20" y2="794.30" stroke="#262626" stroke-width="1.0"/>
<line x1="93.80" y1="792.90" x2="100.60" y2="792.90" stroke="#262626" stroke-width="1.0"/>
<rect x="89.60" y="793.80" width="14.80" height="1.00" fill="#a50d2c"/>
<line x1="120.90" y1="737.90" x2="120.90" y2="773.30" stroke="#262626" stroke-width="1.25"/>
<line x1="117.00" y1="737.90" x2="124.70" y2="737.90" stroke="#262626" stroke-width="1.25"/>
<rect x="113.70" y="773.30" width="14.40" height="21.50" fill="#4e2262"/>
<line x1="56.40" y1="794.80" x2="136.20" y2="794.80" stroke="#000" stroke-width="1.2"/>
<line x1="73.00" y1="696.50" x2="97.50" y2="696.50" stroke="#111" stroke-width="1.1"/>
<text x="83.50" y="696.23" font-size="9.30" textLength="3.59" lengthAdjust="spacingAndGlyphs" style="stroke-width:0.05px">*</text>
<text transform="translate(29.10,776.77) rotate(-90)" x="0" y="0" font-size="11.80" textLength="86.84" lengthAdjust="spacingAndGlyphs">Relative engraftment</text>
<rect x="136.50" y="673.30" width="7.40" height="7.40" fill="#2c4a7c"/>
<rect x="136.50" y="687.00" width="7.40" height="7.40" fill="#a50d2c"/>
<rect x="136.50" y="700.70" width="7.40" height="7.40" fill="#4e2262"/>
<text x="148.02" y="680.10" font-size="9.10" textLength="13.61" lengthAdjust="spacingAndGlyphs" font-style="italic">Utx</text>
<text x="161.80" y="676.60" font-size="6.00" textLength="11.37" lengthAdjust="spacingAndGlyphs" font-style="italic" style="stroke-width:0px">+/+</text>
<text x="173.33" y="680.10" font-size="9.10" textLength="17.17" lengthAdjust="spacingAndGlyphs" font-style="italic">+EV</text>
<text x="148.02" y="693.60" font-size="9.10" textLength="13.61" lengthAdjust="spacingAndGlyphs" font-style="italic">Utx</text>
<text x="162.93" y="690.10" font-size="5.60" textLength="10.42" lengthAdjust="spacingAndGlyphs" font-style="italic" style="stroke-width:0px">Δ/Δ</text>
<text x="173.33" y="693.60" font-size="9.10" textLength="17.17" lengthAdjust="spacingAndGlyphs" font-style="italic">+EV</text>
<text x="148.02" y="707.20" font-size="9.10" textLength="13.61" lengthAdjust="spacingAndGlyphs" font-style="italic">Utx</text>
<text x="162.93" y="703.70" font-size="5.60" textLength="10.42" lengthAdjust="spacingAndGlyphs" font-style="italic" style="stroke-width:0px">Δ/Δ</text>
<text x="173.27" y="707.20" font-size="9.10" textLength="20.74" lengthAdjust="spacingAndGlyphs" font-style="italic">+Utx</text>
<line x1="254.80" y1="664.90" x2="254.80" y2="795.50" stroke="#000" stroke-width="1.2"/>
<line x1="251.20" y1="794.90" x2="254.80" y2="794.90" stroke="#000" stroke-width="1.1"/>
<text x="241.76" y="798.20" font-size="10.00" textLength="5.63" lengthAdjust="spacingAndGlyphs">0</text>
<line x1="251.20" y1="769.66" x2="254.80" y2="769.66" stroke="#000" stroke-width="1.1"/>
<text x="241.88" y="772.96" font-size="10.00" textLength="5.63" lengthAdjust="spacingAndGlyphs">2</text>
<line x1="251.20" y1="744.42" x2="254.80" y2="744.42" stroke="#000" stroke-width="1.1"/>
<text x="241.66" y="747.72" font-size="10.00" textLength="5.63" lengthAdjust="spacingAndGlyphs">4</text>
<line x1="251.20" y1="719.18" x2="254.80" y2="719.18" stroke="#000" stroke-width="1.1"/>
<text x="241.81" y="722.48" font-size="10.00" textLength="5.63" lengthAdjust="spacingAndGlyphs">6</text>
<line x1="251.20" y1="693.94" x2="254.80" y2="693.94" stroke="#000" stroke-width="1.1"/>
<text x="241.81" y="697.24" font-size="10.00" textLength="5.63" lengthAdjust="spacingAndGlyphs">8</text>
<line x1="251.20" y1="668.70" x2="254.80" y2="668.70" stroke="#000" stroke-width="1.1"/>
<text x="236.13" y="672.00" font-size="10.00" textLength="11.27" lengthAdjust="spacingAndGlyphs">10</text>
<line x1="299.60" y1="745.80" x2="299.60" y2="749.50" stroke="#262626" stroke-width="1.25"/>
<line x1="295.40" y1="745.80" x2="303.80" y2="745.80" stroke="#262626" stroke-width="1.25"/>
<line x1="268.40" y1="727.40" x2="276.60" y2="727.40" stroke="#262626" stroke-width="1.0"/>
<rect x="264.20" y="728.20" width="16.70" height="66.70" fill="#2c4a7c"/>
<rect x="291.20" y="749.50" width="16.80" height="45.40" fill="#a50d2c"/>
<line x1="254.20" y1="794.90" x2="317.40" y2="794.90" stroke="#000" stroke-width="1.2"/>
<line x1="271.50" y1="719.10" x2="298.80" y2="719.10" stroke="#111" stroke-width="1.1"/>
<text x="279.14" y="718.93" font-size="9.30" textLength="11.72" lengthAdjust="spacingAndGlyphs" style="stroke-width:0.05px">***</text>
<text x="264.78" y="657.90" font-size="11.20" textLength="42.72" lengthAdjust="spacingAndGlyphs" style="stroke-width:0.03px">Homing</text>
<text transform="translate(229.70,775.56) rotate(-90)" x="0" y="0" font-size="13.00" textLength="91.83" lengthAdjust="spacingAndGlyphs">Donor-derived cell (%)</text>
<line x1="374.10" y1="666.00" x2="374.10" y2="795.40" stroke="#000" stroke-width="1.3"/>
<line x1="370.50" y1="794.80" x2="374.10" y2="794.80" stroke="#000" stroke-width="1.1"/>
<text x="352.99" y="798.10" font-size="10.10" textLength="13.70" lengthAdjust="spacingAndGlyphs">0.0</text>
<line x1="370.50" y1="773.90" x2="374.10" y2="773.90" stroke="#000" stroke-width="1.1"/>
<text x="353.10" y="777.20" font-size="10.10" textLength="13.70" lengthAdjust="spacingAndGlyphs">0.2</text>
<line x1="370.50" y1="753.00" x2="374.10" y2="753.00" stroke="#000" stroke-width="1.1"/>
<text x="352.89" y="756.30" font-size="10.10" textLength="13.70" lengthAdjust="spacingAndGlyphs">0.4</text>
<line x1="370.50" y1="732.10" x2="374.10" y2="732.10" stroke="#000" stroke-width="1.1"/>
<text x="353.04" y="735.40" font-size="10.10" textLength="13.70" lengthAdjust="spacingAndGlyphs">0.6</text>
<line x1="370.50" y1="711.20" x2="374.10" y2="711.20" stroke="#000" stroke-width="1.1"/>
<text x="353.03" y="714.50" font-size="10.10" textLength="13.70" lengthAdjust="spacingAndGlyphs">0.8</text>
<line x1="370.50" y1="690.30" x2="374.10" y2="690.30" stroke="#000" stroke-width="1.1"/>
<text x="352.99" y="693.60" font-size="10.10" textLength="13.70" lengthAdjust="spacingAndGlyphs">1.0</text>
<line x1="370.50" y1="669.40" x2="374.10" y2="669.40" stroke="#000" stroke-width="1.1"/>
<text x="353.10" y="672.70" font-size="10.10" textLength="13.70" lengthAdjust="spacingAndGlyphs">1.2</text>
<line x1="392.20" y1="677.20" x2="392.20" y2="692.30" stroke="#262626" stroke-width="1.25"/>
<line x1="387.40" y1="677.20" x2="397.00" y2="677.20" stroke="#262626" stroke-width="1.25"/>
<line x1="419.00" y1="683.70" x2="419.00" y2="693.40" stroke="#262626" stroke-width="1.25"/>
<line x1="414.50" y1="683.70" x2="423.60" y2="683.70" stroke="#262626" stroke-width="1.25"/>
<rect x="383.50" y="692.30" width="16.70" height="102.50" fill="#2c4a7c"/>
<rect x="410.40" y="693.40" width="17.10" height="101.40" fill="#a50d2c"/>
<line x1="373.50" y1="794.80" x2="436.40" y2="794.80" stroke="#000" stroke-width="1.2"/>
<text x="390.35" y="657.50" font-size="11.20" textLength="30.69" lengthAdjust="spacingAndGlyphs" font-style="italic">Cxcr4</text>
<text transform="translate(345.90,771.64) rotate(-90)" x="0" y="0" font-size="11.50" textLength="82.24" lengthAdjust="spacingAndGlyphs">Relative mRNA level</text>
<rect x="436.90" y="649.80" width="8.00" height="7.50" fill="#2c4a7c"/>
<rect x="436.90" y="663.40" width="8.00" height="7.60" fill="#a50d2c"/>
<text x="448.09" y="657.00" font-size="9.10" textLength="14.33" lengthAdjust="spacingAndGlyphs" font-style="italic">Utx</text>
<text x="462.70" y="653.50" font-size="5.90" textLength="11.32" lengthAdjust="spacingAndGlyphs" font-style="italic" style="stroke-width:0px">+/+</text>
<text x="448.09" y="670.50" font-size="9.10" textLength="14.33" lengthAdjust="spacingAndGlyphs" font-style="italic">Utx</text>
<text x="463.33" y="667.00" font-size="5.60" textLength="10.88" lengthAdjust="spacingAndGlyphs" font-style="italic" style="stroke-width:0px">Δ/Δ</text>
</svg>
</body></html>
